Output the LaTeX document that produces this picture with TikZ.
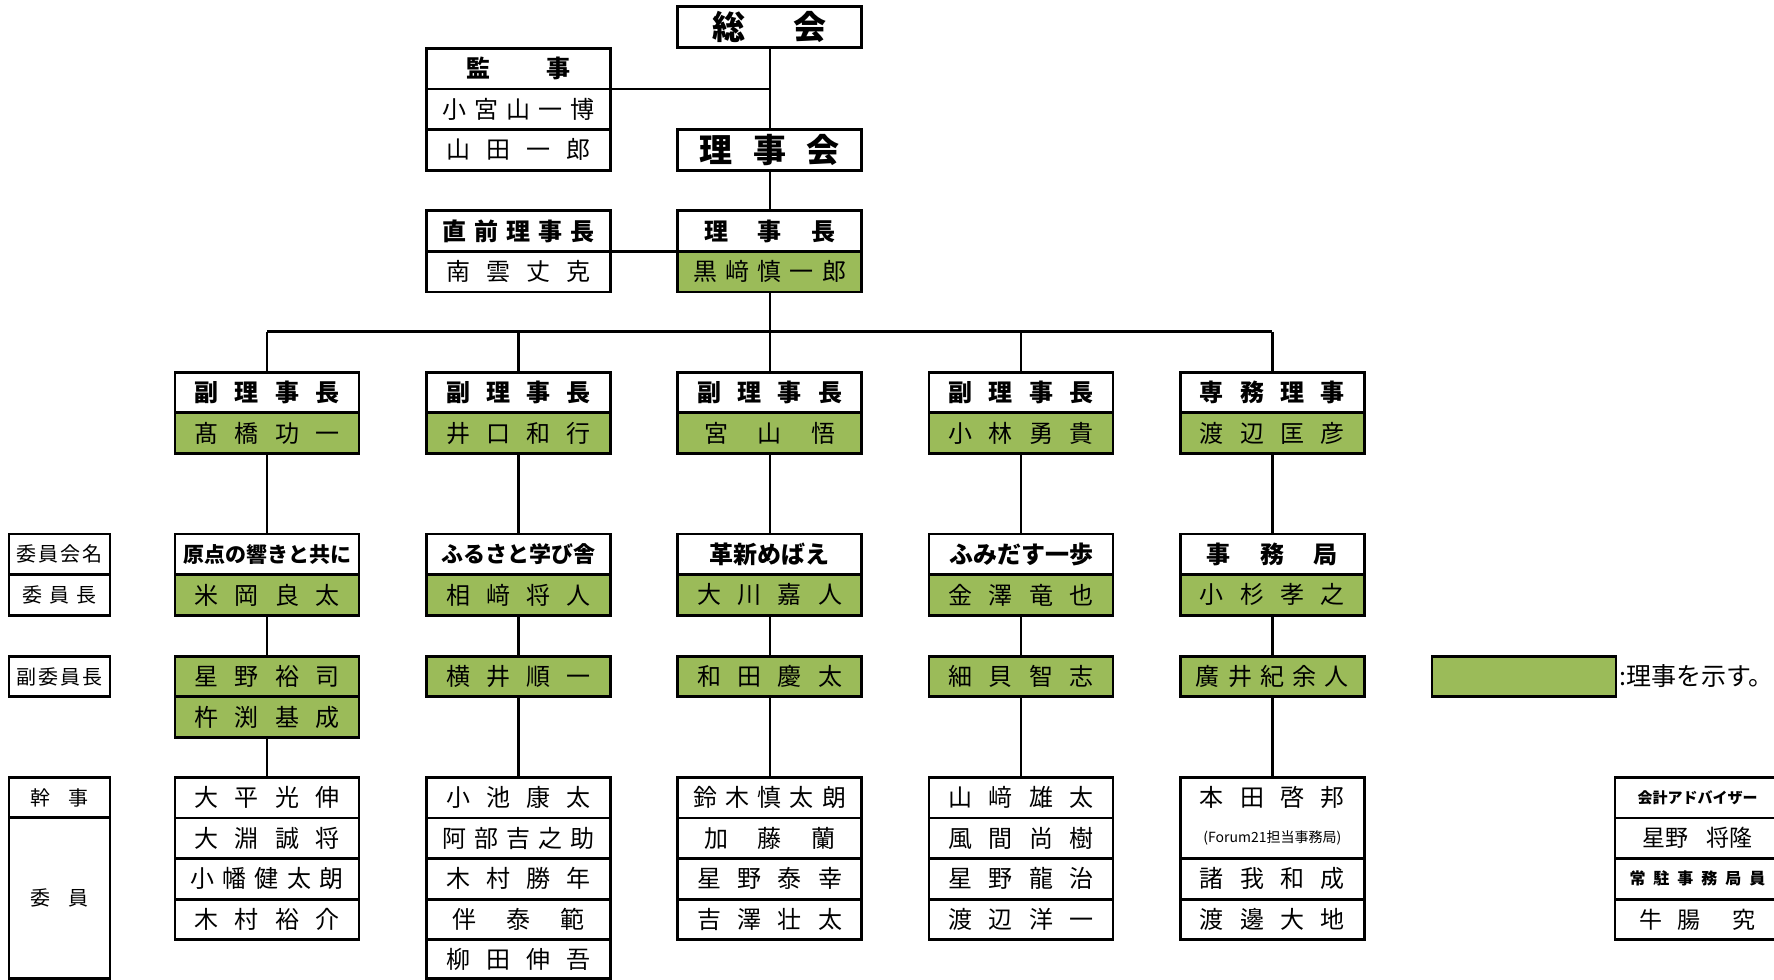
\documentclass[tikz,border=0pt]{standalone}
\usepackage{fontspec}
\newfontfamily\cjk{Noto Sans CJK JP}
\usetikzlibrary{positioning,calc}
\definecolor{rijigreen}{HTML}{9BBB59}
% spread characters evenly over a fixed width
\def\sprloop#1{\ifx\relax#1\else\hfil#1\hfil\expandafter\sprloop\fi}
\newcommand\spr[2][80.5pt]{\hbox to #1{\sprloop#2\relax}}
\tikzset{
  cell/.style={draw=black, line width=1.4pt, minimum width=92pt, minimum height=20.3pt,
    inner sep=0pt, outer sep=0pt, font=\cjk\fontsize{12}{14}\selectfont},
  rij/.style={cell, fill=rijigreen},
  hd/.style={cell, font=\cjk\bfseries\fontsize{12}{14}\selectfont},
  bighd/.style={cell, font=\cjk\bfseries\fontsize{16.5}{18}\selectfont},
  side/.style={cell, minimum width=50.5pt, font=\cjk\fontsize{10}{12}\selectfont},
  xbox/.style={cell, minimum width=82.5pt},
  link/.style={line width=1.2pt},
}

\begin{document}
\begin{tikzpicture}[x=0.5pt, y=-0.5pt]
  \useasboundingbox (0,0) rectangle (1774,980);
  % top
  \node[bighd] (sokai) at (769.7,27.1) {\spr{総会}};
  \node[hd] (kanjih) at (518.5,68.6) {\spr{監事}};
  \node[cell] (kanji1) at (518.5,109.2) {\spr{小宮山一博}};
  \node[cell] (kanji2) at (518.5,149.8) {\spr{山田一郎}};
  \node[bighd] (rjkai) at (769.7,149.8) {\spr{理事会}};
  \node[hd] (zenh) at (518.5,231) {\spr{直前理事長}};
  \node[cell] (zenn) at (518.5,271.6) {\spr{南雲丈克}};
  \node[hd] (rjch) at (769.7,231) {\spr{理事長}};
  \node[rij] (rjcn) at (769.7,271.6) {\spr{黒﨑慎一郎}};

  % side labels
  \node[side] (sidea) at (59.5,554.3) {\spr[44pt]{委員会名}};
  \node[side] (sideb) at (59.5,594.9) {\spr[40pt]{委員長}};
  \node[side] (sidec) at (59.5,676.5) {\spr[44pt]{副委員長}};
  \node[side] (sided) at (59.5,797.6) {\spr[38pt]{幹事}};
  \node[side, minimum height=80.25pt] (sidee) at (59.5,898.1) {\spr[38pt]{委員}};

  % column 1
  \node[hd] (v1h) at (267,392.5) {\spr{副理事長}};
  \node[rij] (v1n) at (267,433.1) {\spr{髙橋功一}};
  \node[hd, font=\cjk\bfseries\fontsize{10.5}{12}\selectfont] (c1h) at (267,554.3) {原点の響きと共に};
  \node[rij] (c1n) at (267,594.9) {\spr{米岡良太}};
  \node[rij] (d1a) at (267,676.5) {\spr{星野裕司}};
  \node[rij] (d1b) at (267,717.1) {\spr{杵渕基成}};
  \node[cell] (s1a) at (267,797.6) {\spr{大平光伸}};
  \node[cell] (s1b) at (267,838.2) {\spr{大淵誠将}};
  \node[cell] (s1c) at (267,878.8) {\spr{小幡健太朗}};
  \node[cell] (s1d) at (267,919.4) {\spr{木村裕介}};

  % column 2
  \node[hd] (v2h) at (518.5,392.5) {\spr{副理事長}};
  \node[rij] (v2n) at (518.5,433.1) {\spr{井口和行}};
  \node[hd, font=\cjk\bfseries\fontsize{11}{12}\selectfont] (c2h) at (518.5,554.3) {ふるさと学び舎};
  \node[rij] (c2n) at (518.5,594.9) {\spr{相﨑将人}};
  \node[rij] (d2a) at (518.5,676.5) {\spr{横井順一}};
  \node[cell] (s2a) at (518.5,797.6) {\spr{小池康太}};
  \node[cell] (s2b) at (518.5,838.2) {\spr{阿部吉之助}};
  \node[cell] (s2c) at (518.5,878.8) {\spr{木村勝年}};
  \node[cell] (s2d) at (518.5,919.4) {\spr{伴泰範}};
  \node[cell, minimum height=19.4pt] (s2e) at (518.5,959.1) {\spr{柳田伸吾}};

  % column 3
  \node[hd] (v3h) at (769.7,392.5) {\spr{副理事長}};
  \node[rij] (v3n) at (769.7,433.1) {\spr{宮山悟}};
  \node[hd] (c3h) at (769.7,554.3) {革新めばえ};
  \node[rij] (c3n) at (769.7,594.9) {\spr{大川嘉人}};
  \node[rij] (d3a) at (769.7,676.5) {\spr{和田慶太}};
  \node[cell] (s3a) at (769.7,797.6) {\spr{鈴木慎太朗}};
  \node[cell] (s3b) at (769.7,838.2) {\spr{加藤蘭}};
  \node[cell] (s3c) at (769.7,878.8) {\spr{星野泰幸}};
  \node[cell] (s3d) at (769.7,919.4) {\spr{吉澤壮太}};

  % column 4
  \node[hd] (v4h) at (1021,392.5) {\spr{副理事長}};
  \node[rij] (v4n) at (1021,433.1) {\spr{小林勇貴}};
  \node[hd] (c4h) at (1021,554.3) {ふみだす一歩};
  \node[rij] (c4n) at (1021,594.9) {\spr{金澤竜也}};
  \node[rij] (d4a) at (1021,676.5) {\spr{細貝智志}};
  \node[cell] (s4a) at (1021,797.6) {\spr{山﨑雄太}};
  \node[cell] (s4b) at (1021,838.2) {\spr{風間尚樹}};
  \node[cell] (s4c) at (1021,878.8) {\spr{星野龍治}};
  \node[cell] (s4d) at (1021,919.4) {\spr{渡辺洋一}};

  % column 5
  \node[hd] (v5h) at (1272.3,392.5) {\spr{専務理事}};
  \node[rij] (v5n) at (1272.3,433.1) {\spr{渡辺匡彦}};
  \node[hd] (c5h) at (1272.3,554.3) {\spr{事務局}};
  \node[rij] (c5n) at (1272.3,594.9) {\spr{小杉孝之}};
  \node[rij] (d5a) at (1272.3,676.5) {\spr{廣井紀余人}};
  \node[cell, minimum height=40.6pt] (s5a) at (1272.3,817.9) {};
  \node[font=\cjk\fontsize{12}{14}\selectfont] (s5an) at (1272.3,797.6) {\spr{本田啓邦}};
  \node[font=\cjk\fontsize{7}{8}\selectfont] (s5ad) at (1272.3,838.2) {(Forum21担当事務局)};
  \node[cell] (s5b) at (1272.3,878.8) {\spr{諸我和成}};
  \node[cell] (s5c) at (1272.3,919.4) {\spr{渡邊大地}};

  % legend and advisers
  \node[rij] (legend) at (1524,676.5) {};
  \node[font=\cjk\fontsize{12.5}{14}\selectfont, anchor=west, inner sep=1.5pt] (legtx) at (legend.east) {:理事を示す。};
  \node[xbox, font=\cjk\bfseries\fontsize{7.5}{9}\selectfont] (x1) at (1697.5,797.6) {会計アドバイザー};
  \node[xbox, font=\cjk\fontsize{11.5}{13}\selectfont] (x2) at (1697.5,838.2) {星野\hspace{9pt}将隆};
  \node[xbox, font=\cjk\bfseries\fontsize{8}{9}\selectfont] (x3) at (1697.5,878.8) {\spr[72pt]{常駐事務局員}};
  \node[xbox, font=\cjk\fontsize{11.5}{13}\selectfont] (x4) at (1697.5,919.4) {牛\hspace{8pt}腸\hspace{16pt}究};

  % connectors
  \draw[link] (sokai) -- (rjkai);
  \draw[link] (kanjih.south east) -- (kanjih.south east -| sokai.south);
  \draw[link] (rjkai) -- (rjch);
  \draw[link] (zenh.south east) -- (rjch.south west);
  \coordinate (bus) at (769.7,331.5);
  \draw[link] (rjcn.south) -- (bus);
  \draw[link] (v1h.north |- bus) -- (v5h.north |- bus);
  \foreach \i/\last in {1/d1b,2/d2a,3/d3a,4/d4a,5/d5a} {
    \draw[link] (v\i h.north |- bus) -- (v\i h.north);
    \draw[link] (v\i n.south) -- (c\i h.north);
    \draw[link] (c\i n.south) -- (d\i a.north);
    \draw[link] (\last.south) -- (s\i a.north);
  }
\end{tikzpicture}
\end{document}
